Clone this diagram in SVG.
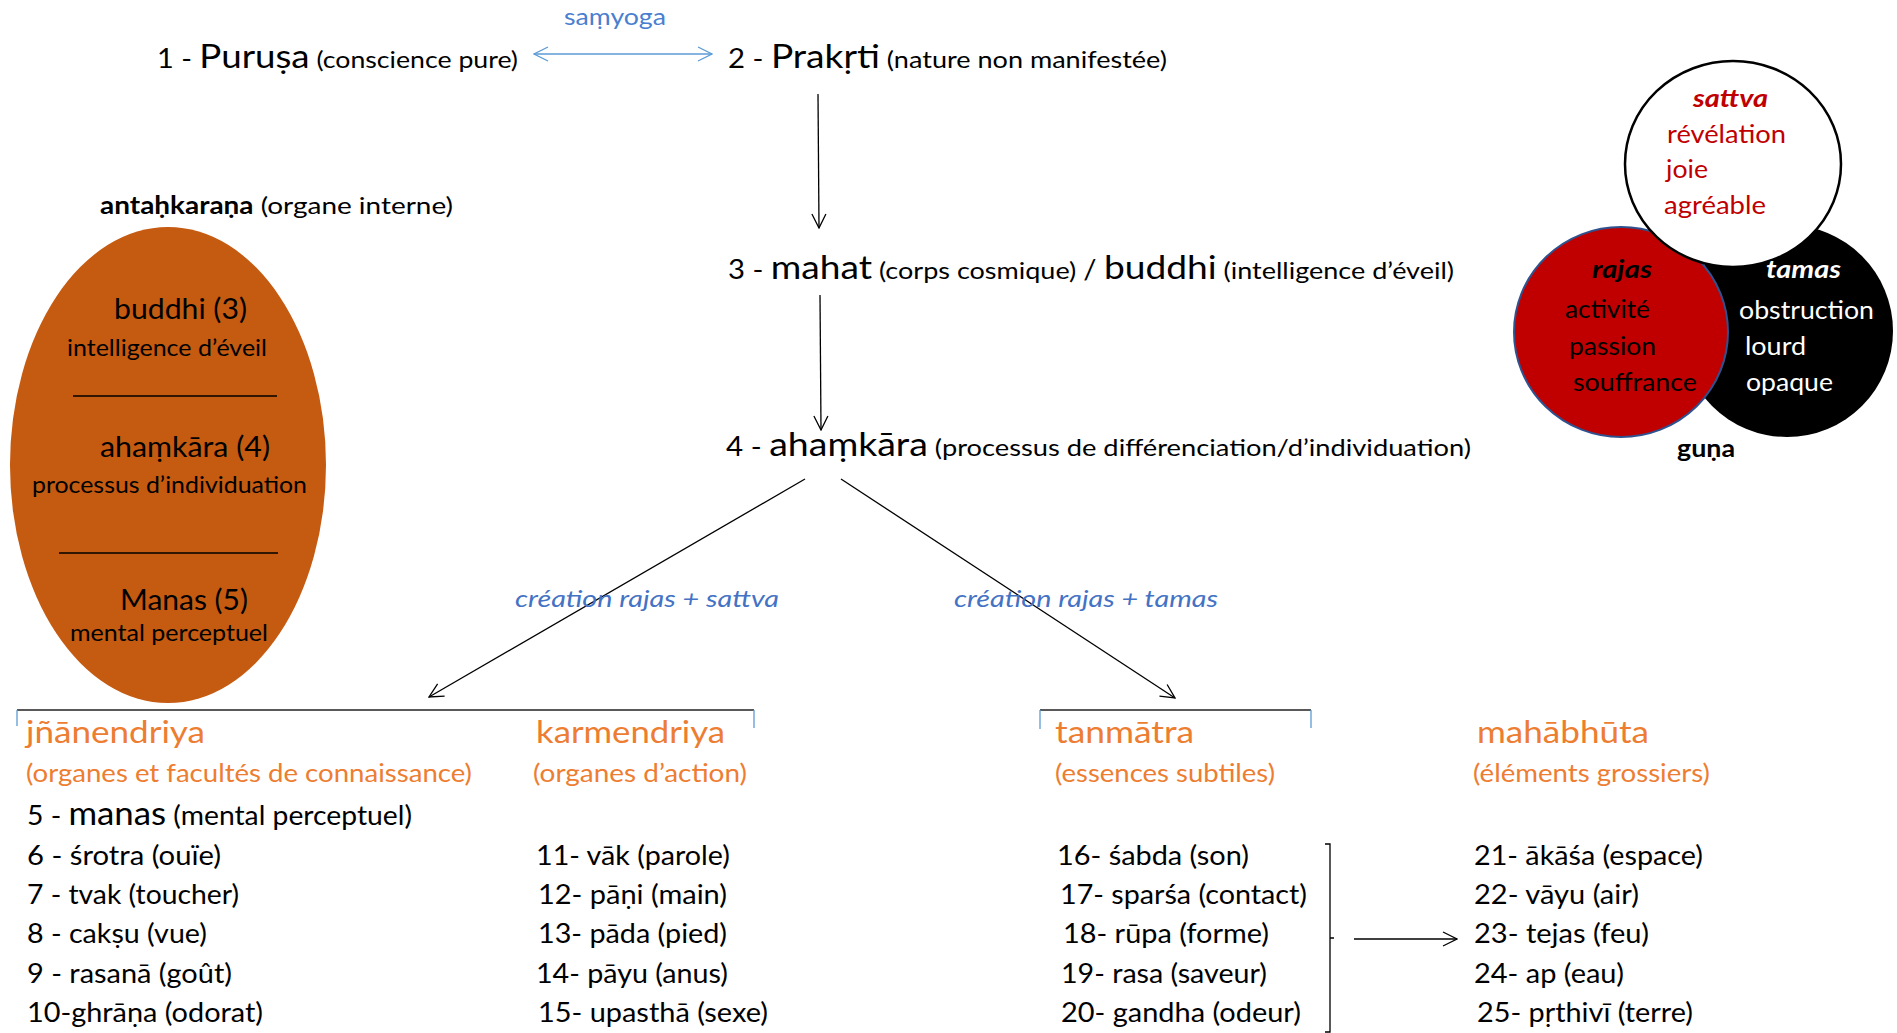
<svg xmlns="http://www.w3.org/2000/svg" width="1897" height="1033" viewBox="0 0 1897 1033">
<defs>
<style>
text{font-family:Lato,"Open Sans","Liberation Sans",sans-serif;fill:#000}
.big{font-size:33px}
.mid{font-size:26px}
.sm{font-size:24px}
.or{fill:#ED7D31}
.hd{font-size:30px}
.sub{font-size:25px}
.li{font-size:26px}
.bl{fill:#4472C4;font-style:italic;font-size:24px}
.el1{font-size:28px}
.el2{font-size:23px}
.vn{font-size:25px}
.b{font-weight:bold}
.conn{stroke:#000;stroke-width:1.3;fill:none}
.tick{stroke:#5B9BD5;stroke-width:1.3;fill:none}
</style>
<marker id="ah" viewBox="0 0 16 16" refX="15" refY="8" markerWidth="16" markerHeight="16" markerUnits="userSpaceOnUse" orient="auto">
<path d="M1,1 L15,8 L1,15" fill="none" stroke="#000" stroke-width="1.3"/>
</marker>
<marker id="ahb" viewBox="0 0 16 16" refX="15" refY="8" markerWidth="16" markerHeight="16" markerUnits="userSpaceOnUse" orient="auto-start-reverse">
<path d="M1,1 L15,8 L1,15" fill="none" stroke="#5B9BD5" stroke-width="1.3"/>
</marker>
</defs>
<rect width="1897" height="1033" fill="#fff"/>

<g id="connectors">
<line x1="534" y1="54" x2="712" y2="54" stroke="#5B9BD5" stroke-width="1.3" marker-start="url(#ahb)" marker-end="url(#ahb)"/>
<line class="conn" x1="818" y1="94" x2="819" y2="228" marker-end="url(#ah)"/>
<line class="conn" x1="820" y1="295" x2="821" y2="430" marker-end="url(#ah)"/>
<line class="conn" x1="805" y1="479" x2="429" y2="697" marker-end="url(#ah)"/>
<line class="conn" x1="841" y1="479" x2="1175" y2="698" marker-end="url(#ah)"/>
<line class="conn" x1="1354" y1="939" x2="1457" y2="939" marker-end="url(#ah)"/>
</g>

<g id="samyoga"><text x="615" y="25" text-anchor="middle" style="font-size:23px;fill:#4A7FD0" textLength="102" lengthAdjust="spacingAndGlyphs">saṃyoga</text></g>

<g id="n1"><text x="157" y="68" textLength="361" lengthAdjust="spacingAndGlyphs"><tspan class="mid">1 - </tspan><tspan class="big">Puruṣa</tspan><tspan class="sm"> (conscience pure)</tspan></text></g>
<g id="n2"><text x="728" y="68" textLength="439" lengthAdjust="spacingAndGlyphs"><tspan class="mid">2 - </tspan><tspan class="big">Prakṛti</tspan><tspan class="sm"> (nature non manifestée)</tspan></text></g>
<g id="n3"><text x="728" y="279" textLength="726" lengthAdjust="spacingAndGlyphs"><tspan class="mid">3 - </tspan><tspan class="big">mahat</tspan><tspan class="sm"> (corps cosmique) </tspan><tspan class="mid">/ </tspan><tspan class="big">buddhi</tspan><tspan class="sm"> (intelligence d’éveil)</tspan></text></g>
<g id="n4"><text x="726" y="456" textLength="745" lengthAdjust="spacingAndGlyphs"><tspan class="mid">4 - </tspan><tspan class="big">ahaṃkāra</tspan><tspan class="sm"> (processus de différenciation/d’individuation)</tspan></text></g>

<g id="antahkarana">
<text x="100" y="214" class="sm" textLength="353" lengthAdjust="spacingAndGlyphs"><tspan class="b">antaḥkaraṇa</tspan> (organe interne)</text>
<ellipse cx="168" cy="465" rx="158" ry="238" fill="#C55A11"/>
<text x="114" y="319" class="el1" textLength="133" lengthAdjust="spacingAndGlyphs">buddhi (3)</text>
<text x="67" y="356" class="el2" textLength="200" lengthAdjust="spacingAndGlyphs">intelligence d’éveil</text>
<line x1="73" y1="396" x2="277" y2="396" stroke="#000" stroke-width="1.5"/>
<text x="100" y="457" class="el1" textLength="170" lengthAdjust="spacingAndGlyphs">ahaṃkāra (4)</text>
<text x="32" y="493" class="el2" textLength="275" lengthAdjust="spacingAndGlyphs">processus d’individuation</text>
<line x1="59" y1="553" x2="278" y2="553" stroke="#000" stroke-width="1.5"/>
<text x="120" y="610" class="el1" textLength="128" lengthAdjust="spacingAndGlyphs">Manas (5)</text>
<text x="70" y="641" class="el2" textLength="198" lengthAdjust="spacingAndGlyphs">mental perceptuel</text>
</g>

<g id="guna">
<circle cx="1787" cy="331" r="106" fill="#000"/>
<ellipse cx="1621" cy="332" rx="107" ry="105" fill="#C00000" stroke="#2F528F" stroke-width="2"/>
<ellipse cx="1733" cy="164" rx="108" ry="103" fill="#fff" stroke="#000" stroke-width="2.5"/>
<text x="1693" y="107" class="vn b" style="font-style:italic;fill:#C00000" textLength="75" lengthAdjust="spacingAndGlyphs">sattva</text>
<text x="1667" y="143" class="vn" style="fill:#C00000" textLength="119" lengthAdjust="spacingAndGlyphs">révélation</text>
<text x="1666" y="178" class="vn" style="fill:#C00000" textLength="42" lengthAdjust="spacingAndGlyphs">joie</text>
<text x="1664" y="214" class="vn" style="fill:#C00000" textLength="102" lengthAdjust="spacingAndGlyphs">agréable</text>
<text x="1592" y="278" class="vn b" style="font-style:italic" textLength="60" lengthAdjust="spacingAndGlyphs">rajas</text>
<text x="1565" y="318" class="vn" textLength="85" lengthAdjust="spacingAndGlyphs">activité</text>
<text x="1569" y="355" class="vn" textLength="87" lengthAdjust="spacingAndGlyphs">passion</text>
<text x="1573" y="391" class="vn" textLength="124" lengthAdjust="spacingAndGlyphs">souffrance</text>
<text x="1766" y="278" class="vn b" style="font-style:italic;fill:#fff" textLength="75" lengthAdjust="spacingAndGlyphs">tamas</text>
<text x="1739" y="319" class="vn" style="fill:#fff" textLength="135" lengthAdjust="spacingAndGlyphs">obstruction</text>
<text x="1745" y="355" class="vn" style="fill:#fff" textLength="61" lengthAdjust="spacingAndGlyphs">lourd</text>
<text x="1746" y="391" class="vn" style="fill:#fff" textLength="87" lengthAdjust="spacingAndGlyphs">opaque</text>
<text x="1677" y="457" class="sm b" textLength="58" lengthAdjust="spacingAndGlyphs">guṇa</text>
</g>

<g id="labels">
<text x="515" y="607" class="bl" textLength="264" lengthAdjust="spacingAndGlyphs">création rajas + sattva</text>
<text x="954" y="607" class="bl" textLength="264" lengthAdjust="spacingAndGlyphs">création rajas + tamas</text>
</g>

<g id="brackets">
<line x1="17" y1="710" x2="754" y2="710" stroke="#222" stroke-width="1.5"/>
<line class="tick" x1="17" y1="710" x2="17" y2="726"/>
<line class="tick" x1="754" y1="710" x2="754" y2="728"/>
<line x1="1040" y1="710" x2="1311" y2="710" stroke="#222" stroke-width="1.5"/>
<line class="tick" x1="1040" y1="710" x2="1040" y2="729"/>
<line class="tick" x1="1311" y1="710" x2="1311" y2="728"/>
<path d="M1325,844 L1330,844 L1330,1032 L1325,1032 M1330,938 L1334,938" class="conn"/>
</g>

<g id="jnanendriya">
<text x="26" y="743" class="hd or" textLength="179" lengthAdjust="spacingAndGlyphs">jñānendriya</text>
<text x="26" y="782" class="sub or" textLength="446" lengthAdjust="spacingAndGlyphs">(organes et facultés de connaissance)</text>
<text x="27" y="825" class="li" textLength="385" lengthAdjust="spacingAndGlyphs">5 - <tspan style="font-size:32px">manas</tspan> (mental perceptuel)</text>
<text x="27" y="865" class="li" textLength="194" lengthAdjust="spacingAndGlyphs">6 - śrotra (ouïe)</text>
<text x="27" y="904" class="li" textLength="212" lengthAdjust="spacingAndGlyphs">7 - tvak (toucher)</text>
<text x="27" y="943" class="li" textLength="180" lengthAdjust="spacingAndGlyphs">8 - cakṣu (vue)</text>
<text x="27" y="983" class="li" textLength="205" lengthAdjust="spacingAndGlyphs">9 - rasanā (goût)</text>
<text x="27" y="1022" class="li" textLength="236" lengthAdjust="spacingAndGlyphs">10-ghrāṇa (odorat)</text>
</g>

<g id="karmendriya">
<text x="536" y="743" class="hd or" textLength="189" lengthAdjust="spacingAndGlyphs">karmendriya</text>
<text x="533" y="782" class="sub or" textLength="214" lengthAdjust="spacingAndGlyphs">(organes d’action)</text>
<text x="536" y="865" class="li" textLength="194" lengthAdjust="spacingAndGlyphs">11- vāk (parole)</text>
<text x="538" y="904" class="li" textLength="189" lengthAdjust="spacingAndGlyphs">12- pāṇi (main)</text>
<text x="538" y="943" class="li" textLength="189" lengthAdjust="spacingAndGlyphs">13- pāda (pied)</text>
<text x="536" y="983" class="li" textLength="192" lengthAdjust="spacingAndGlyphs">14- pāyu (anus)</text>
<text x="538" y="1022" class="li" textLength="230" lengthAdjust="spacingAndGlyphs">15- upasthā (sexe)</text>
</g>

<g id="tanmatra">
<text x="1055" y="743" class="hd or" textLength="139" lengthAdjust="spacingAndGlyphs">tanmātra</text>
<text x="1055" y="782" class="sub or" textLength="220" lengthAdjust="spacingAndGlyphs">(essences subtiles)</text>
<text x="1057" y="865" class="li" textLength="192" lengthAdjust="spacingAndGlyphs">16- śabda (son)</text>
<text x="1060" y="904" class="li" textLength="247" lengthAdjust="spacingAndGlyphs">17- sparśa (contact)</text>
<text x="1063" y="943" class="li" textLength="206" lengthAdjust="spacingAndGlyphs">18- rūpa (forme)</text>
<text x="1061" y="983" class="li" textLength="206" lengthAdjust="spacingAndGlyphs">19- rasa (saveur)</text>
<text x="1061" y="1022" class="li" textLength="240" lengthAdjust="spacingAndGlyphs">20- gandha (odeur)</text>
</g>

<g id="mahabhuta">
<text x="1477" y="743" class="hd or" textLength="172" lengthAdjust="spacingAndGlyphs">mahābhūta</text>
<text x="1473" y="782" class="sub or" textLength="237" lengthAdjust="spacingAndGlyphs">(éléments grossiers)</text>
<text x="1474" y="865" class="li" textLength="229" lengthAdjust="spacingAndGlyphs">21- ākāśa (espace)</text>
<text x="1474" y="904" class="li" textLength="165" lengthAdjust="spacingAndGlyphs">22- vāyu (air)</text>
<text x="1474" y="943" class="li" textLength="175" lengthAdjust="spacingAndGlyphs">23- tejas (feu)</text>
<text x="1474" y="983" class="li" textLength="150" lengthAdjust="spacingAndGlyphs">24- ap (eau)</text>
<text x="1477" y="1022" class="li" textLength="216" lengthAdjust="spacingAndGlyphs">25- pṛthivī (terre)</text>
</g>
</svg>
